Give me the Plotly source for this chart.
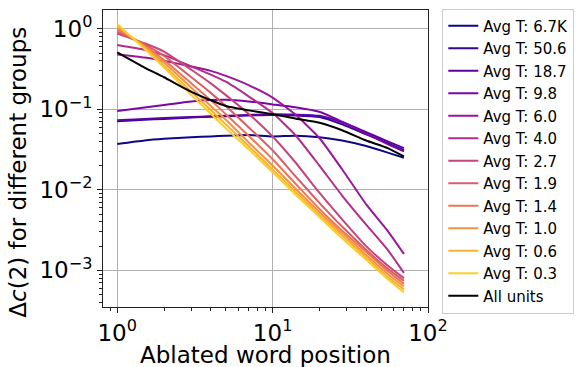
import numpy as np
import plotly.graph_objects as go
from plotly.colors import sample_colorscale

# Ablated word positions at which values were read
positions = [1, 1.5, 2, 3, 4, 5, 7, 10, 14, 20, 28, 40, 55, 70]

group_labels = ["Avg T: 6.7K", "Avg T: 50.6", "Avg T: 18.7", "Avg T: 9.8",
                "Avg T: 6.0", "Avg T: 4.0", "Avg T: 2.7", "Avg T: 1.9",
                "Avg T: 1.4", "Avg T: 1.0", "Avg T: 0.6", "Avg T: 0.3"]

t_6_7k = [0.037, 0.041, 0.043, 0.045, 0.046, 0.047, 0.048, 0.046, 0.047, 0.045, 0.041, 0.035, 0.029, 0.025]
t_50_6 = [0.071, 0.074, 0.076, 0.079, 0.081, 0.082, 0.084, 0.085, 0.084, 0.080, 0.065, 0.049, 0.038, 0.031]
t_18_7 = [0.073, 0.076, 0.078, 0.080, 0.082, 0.083, 0.085, 0.087, 0.086, 0.083, 0.069, 0.052, 0.040, 0.033]
t_9_8 = [0.095, 0.105, 0.113, 0.125, 0.130, 0.131, 0.125, 0.115, 0.106, 0.093, 0.070, 0.050, 0.037, 0.030]
t_6_0 = [0.48, 0.44, 0.40, 0.34, 0.30, 0.26, 0.20, 0.14, 0.086, 0.044, 0.018, 0.0066, 0.0031, 0.0016]
t_4_0 = [0.63, 0.55, 0.47, 0.34, 0.27, 0.22, 0.145, 0.090, 0.048, 0.020, 0.0085, 0.0037, 0.0018, 0.00093]
t_2_7 = [0.87, 0.66, 0.52, 0.31, 0.21, 0.15, 0.088, 0.046, 0.022, 0.0092, 0.0043, 0.0020, 0.00115, 0.00080]
t_1_9 = [0.92, 0.64, 0.46, 0.25, 0.16, 0.11, 0.060, 0.031, 0.0148, 0.0069, 0.0035, 0.0018, 0.00105, 0.00074]
t_1_4 = [0.98, 0.62, 0.41, 0.21, 0.13, 0.087, 0.047, 0.024, 0.0120, 0.0058, 0.0031, 0.0017, 0.00098, 0.00068]
t_1_0 = [1.05, 0.60, 0.38, 0.185, 0.11, 0.074, 0.039, 0.020, 0.0104, 0.0053, 0.0029, 0.00155, 0.00090, 0.00063]
t_0_6 = [1.10, 0.58, 0.35, 0.165, 0.098, 0.065, 0.035, 0.0178, 0.0095, 0.0049, 0.0027, 0.00145, 0.00083, 0.00058]
t_0_3 = [1.15, 0.56, 0.33, 0.150, 0.088, 0.058, 0.032, 0.0165, 0.0088, 0.0046, 0.0025, 0.00135, 0.00078, 0.00053]
all_units = [0.51, 0.33, 0.25, 0.165, 0.13, 0.11, 0.097, 0.087, 0.077, 0.068, 0.055, 0.041, 0.033, 0.026]

group_values = [t_6_7k, t_50_6, t_18_7, t_9_8, t_6_0, t_4_0, t_2_7, t_1_9,
                t_1_4, t_1_0, t_0_6, t_0_3]

x_tick_vals = [1, 10, 100]
x_tick_text = ["10<sup>0</sup>", "10<sup>1</sup>", "10<sup>2</sup>"]
y_tick_vals = [1, 0.1, 0.01, 0.001]
y_tick_text = ["10<sup>0</sup>", "10<sup>\u22121</sup>", "10<sup>\u22122</sup>", "10<sup>\u22123</sup>"]

colors = sample_colorscale("Plasma", list(np.linspace(0, 0.9, len(group_labels))))

fig = go.Figure()
for lab, vals, col in zip(group_labels, group_values, colors):
    fig.add_trace(go.Scatter(x=positions, y=vals, mode="lines", name=lab,
                             line=dict(color=col, width=2, shape="spline", smoothing=0.5)))
fig.add_trace(go.Scatter(x=positions, y=all_units, mode="lines", name="All units",
                         line=dict(color="black", width=2, shape="spline", smoothing=0.5)))

minor_x = [v * d for d in (1, 10) for v in range(2, 10)] + [0.9]
minor_y = [v * d for d in (0.001, 0.01, 0.1, 1) for v in range(2, 10)] + [0.0003, 0.0004, 0.0005, 0.0006, 0.0007, 0.0008, 0.0009]

axis_common = dict(showline=True, mirror=True, linecolor="#222", linewidth=1,
                   ticks="outside", ticklen=5, tickcolor="#222",
                   showgrid=True, gridcolor="#b0b0b0", gridwidth=1,
                   zeroline=False, automargin=False,
                   tickfont=dict(size=23, color="black"))

fig.update_xaxes(type="log", range=[np.log10(0.81), 2.0],
                 tickvals=x_tick_vals, ticktext=x_tick_text,
                 minor=dict(tickvals=minor_x, ticks="outside", ticklen=3, tickcolor="#222", showgrid=False),
                 **axis_common)
fig.update_yaxes(type="log", range=[-3.455, 0.233],
                 tickvals=y_tick_vals, ticktext=y_tick_text,
                 minor=dict(tickvals=minor_y, ticks="outside", ticklen=3, tickcolor="#222", showgrid=False),
                 **axis_common)

fig.add_annotation(text="Ablated word position", xref="paper", yref="paper",
                   x=0.5, y=-0.163, xanchor="center", yanchor="middle", showarrow=False,
                   font=dict(size=23, color="black"))
fig.add_annotation(text="\u0394<i>c</i>(2) for different groups", xref="paper", yref="paper",
                   x=-0.262, y=0.455, xanchor="center", yanchor="middle", showarrow=False,
                   textangle=-90, font=dict(size=23, color="black"))

fig.update_layout(
    width=582, height=367,
    margin=dict(l=103, r=154, t=10, b=60, autoexpand=False),
    paper_bgcolor="white", plot_bgcolor="white",
    font=dict(family="DejaVu Sans", color="black"),
    legend=dict(x=1.044, y=1.005, xanchor="left", yanchor="top",
                bordercolor="#cccccc", borderwidth=1, bgcolor="rgba(255,255,255,0.8)",
                tracegroupgap=0, maxheight=360,
                font=dict(size=15, color="black")),
    showlegend=True,
)

fig.write_html("out.html", config={"displayModeBar": False},
               post_script="document.body.style.margin='0';document.body.style.overflow='hidden';")
